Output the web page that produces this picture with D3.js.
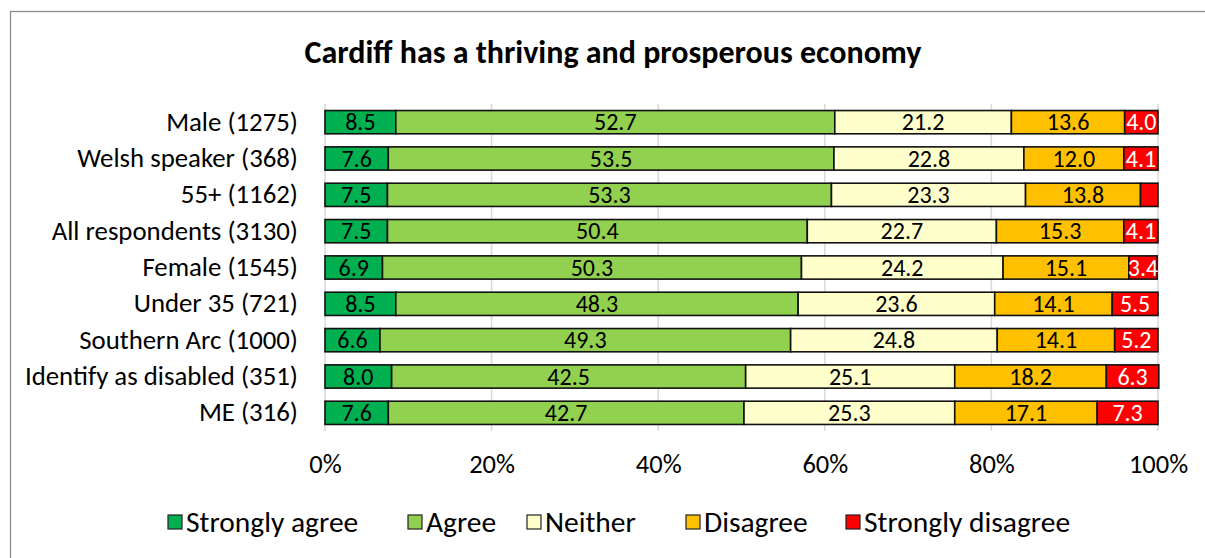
<!DOCTYPE html>
<html>
<head>
<meta charset="utf-8">
<script src="https://cdn.jsdelivr.net/npm/d3@7"></script>
<style>
  body { margin: 0; background: #fff; }
  text { font-family: Carlito, "Open Sans", sans-serif; }
</style>
</head>
<body>
<div id="chart"></div>
<script>
// data
var categories = ['Male (1275)', 'Welsh speaker (368)', '55+ (1162)', 'All respondents (3130)',
  'Female (1545)', 'Under 35 (721)', 'Southern Arc (1000)', 'Identify as disabled (351)', 'ME (316)'];
var seriesNames = ['Strongly agree', 'Agree', 'Neither', 'Disagree', 'Strongly disagree'];
var stronglyAgree = [8.5, 7.6, 7.5, 7.5, 6.9, 8.5, 6.6, 8.0, 7.6];
var agree = [52.7, 53.5, 53.3, 50.4, 50.3, 48.3, 49.3, 42.5, 42.7];
var neither = [21.2, 22.8, 23.3, 22.7, 24.2, 23.6, 24.8, 25.1, 25.3];
var disagree = [13.6, 12.0, 13.8, 15.3, 15.1, 14.1, 14.1, 18.2, 17.1];
var stronglyDisagree = [4.0, 4.1, 2.1, 4.1, 3.4, 5.5, 5.2, 6.3, 7.3];
var xTicks = [0, 20, 40, 60, 80, 100];

var colors = ['#00b050', '#92d050', '#ffffcc', '#ffc000', '#ff0000'];
var labelColors = ['#000', '#000', '#000', '#000', '#fff'];
var fontFamily = 'Carlito, "Open Sans", sans-serif';

var width = 1205, height = 558;
var margin = { left: 325, right: 47, top: 104, bottom: 127 };

var svg = d3.select('#chart').append('svg').attr('width', width).attr('height', height);

// chart frame
svg.append('rect')
  .attr('x', 10.5).attr('y', 11.5)
  .attr('width', width + 20).attr('height', height + 20)
  .attr('fill', '#fff').attr('stroke', '#888').attr('stroke-width', 1.2);

svg.append('text')
  .attr('x', 613).attr('y', 63)
  .attr('text-anchor', 'middle')
  .attr('font-size', 32).attr('font-weight', 'bold')
  .text('Cardiff has a thriving and prosperous economy');

var x = d3.scaleLinear().domain([0, 100]).range([margin.left, width - margin.right]);
var y = d3.scaleBand().domain(categories).range([margin.top, height - margin.bottom]).paddingInner(0.36).paddingOuter(0.18);

// gridlines
svg.append('g').selectAll('line').data(xTicks).join('line')
  .attr('x1', function(d) { return x(d); }).attr('x2', function(d) { return x(d); })
  .attr('y1', margin.top).attr('y2', height - margin.bottom)
  .attr('stroke', '#d9d9d9').attr('stroke-width', 1.5);

// x axis
var xAxis = svg.append('g')
  .attr('transform', 'translate(0,' + (height - margin.bottom) + ')')
  .call(d3.axisBottom(x).tickValues(xTicks).tickSize(0).tickPadding(23).tickFormat(function(d) { return d + '%'; }));
xAxis.select('.domain').remove();
xAxis.selectAll('text').attr('font-size', 26.5).attr('fill', '#000').attr('font-family', fontFamily);

// y axis
var yAxis = svg.append('g')
  .attr('transform', 'translate(' + margin.left + ',0)')
  .call(d3.axisLeft(y).tickSize(0).tickPadding(27));
yAxis.select('.domain').remove();
yAxis.selectAll('text').attr('font-size', 26.8).attr('fill', '#000').attr('font-family', fontFamily);

// stack
var rows = categories.map(function(c, i) {
  return { cat: c, s0: stronglyAgree[i], s1: agree[i], s2: neither[i], s3: disagree[i], s4: stronglyDisagree[i] };
});
var stack = d3.stack().keys(['s0', 's1', 's2', 's3', 's4'])(rows);

var layers = svg.append('g').selectAll('g').data(stack).join('g')
  .attr('fill', function(d, i) { return colors[i]; });

layers.selectAll('rect').data(function(d) { return d; }).join('rect')
  .attr('x', function(d) { return x(d[0]); })
  .attr('y', function(d) { return y(d.data.cat); })
  .attr('width', function(d) { return x(d[1]) - x(d[0]); })
  .attr('height', y.bandwidth())
  .attr('stroke', '#111').attr('stroke-width', 1.6);

layers.each(function(layer, i) {
  d3.select(this).selectAll('text').data(layer.filter(function(d) { return d[1] - d[0] >= 3; })).join('text')
    .attr('x', function(d) { return (x(d[0]) + x(d[1])) / 2; })
    .attr('y', function(d) { return y(d.data.cat) + y.bandwidth() / 2; })
    .attr('dy', '0.34em')
    .attr('text-anchor', 'middle')
    .attr('font-size', 24)
    .attr('fill', labelColors[i])
    .text(function(d) { return (d[1] - d[0]).toFixed(1); });
});

// legend
var legendX = [168, 408, 527, 686, 846];
var legend = svg.append('g').selectAll('g').data(seriesNames).join('g')
  .attr('transform', function(d, i) { return 'translate(' + legendX[i] + ',522)'; });
legend.append('rect')
  .attr('x', 0).attr('y', -7).attr('width', 14).attr('height', 14)
  .attr('fill', function(d, i) { return colors[i]; })
  .attr('stroke', '#222').attr('stroke-width', 1.2);
legend.append('text')
  .attr('x', 18).attr('dy', '0.34em')
  .attr('font-size', 29.5)
  .text(function(d) { return d; });
</script>
</body>
</html>
